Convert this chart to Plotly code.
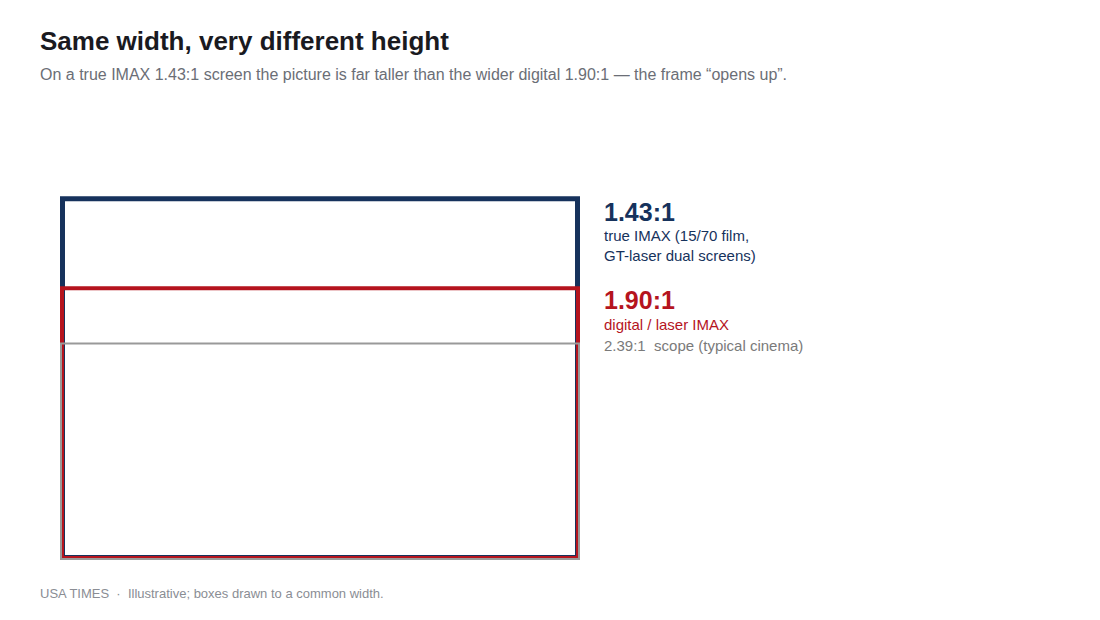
import plotly.graph_objects as go

# aspect ratios, drawn to a common width and sharing the bottom edge
ratios = [1.43, 1.90, 2.39]
ratio_labels = ["1.43:1", "1.90:1", "2.39:1"]
ratio_notes = ["true IMAX (15/70 film,<br>GT-laser dual screens)",
               "digital / laser IMAX",
               "scope (typical cinema)"]
colors = ["#16325c", "#b5141e", "#999999"]
line_widths = [5, 4, 2]

W, H = 1100, 620
FONT = "Liberation Sans, Arial, sans-serif"
BODY = 8  # default page margin around the plot div

# pixel geometry of the plotting area: 1 unit of width = 520px
px_per_unit = 520
m_l, m_b, m_t = 60 - BODY, 60 + BODY, 100
plot_w = W - m_l
plot_h = H - m_b - m_t

fig = go.Figure()

# boxes, strokes kept inside the outline like the original svg
for r, c, lw in zip(ratios, colors, line_widths):
    inset = lw / 2 / px_per_unit
    fig.add_shape(type="rect", xref="x", yref="y",
                  x0=inset, x1=1 - inset, y0=inset, y1=1 / r - inset,
                  line=dict(color=c, width=lw), fillcolor="rgba(0,0,0,0)")


def side_label(r, txt, dy, size, color):
    fig.add_annotation(x=1, y=1 / r, xref="x", yref="y", xanchor="left", yanchor="middle",
                       xshift=22, yshift=-dy, showarrow=False, align="left",
                       text=txt, font=dict(size=size, color=color, family=FONT))


# labels on the right (dy = px below the box top)
side_label(ratios[0], f"<b>{ratio_labels[0]}</b>", 16, 25, colors[0])
side_label(ratios[0], ratio_notes[0], 49, 15, colors[0])
side_label(ratios[1], f"<b>{ratio_labels[1]}</b>", 14, 25, colors[1])
side_label(ratios[1], ratio_notes[1], 38, 15, colors[1])
side_label(ratios[2], f"{ratio_labels[2]}  {ratio_notes[2]}", 3, 15, "#7a7a7a")


def paper_text(txt, px_x, px_y, size, color):
    # place text by page pixel position (left edge, vertical centre)
    fig.add_annotation(text=txt, x=0, y=0, xref="paper", yref="paper",
                       xanchor="left", yanchor="middle", showarrow=False,
                       xshift=px_x - BODY - m_l - 2, yshift=(H - m_b) - (px_y - BODY),
                       font=dict(size=size, color=color, family=FONT))


paper_text("<b>Same width, very different height</b>", 40, 41, 26, "#1a1a1f")
paper_text("On a true IMAX 1.43:1 screen the picture is far taller than the wider digital 1.90:1 — the frame “opens up”.",
           40, 74, 16, "#6b6e76")
paper_text("USA TIMES  ·  Illustrative; boxes drawn to a common width.", 40, 593, 13, "#8a8d94")

fig.update_layout(
    width=W, height=H,
    margin=dict(l=m_l, r=0, t=m_t, b=m_b, pad=0),
    paper_bgcolor="white", plot_bgcolor="white",
    showlegend=False,
    xaxis=dict(range=[0, plot_w / px_per_unit], visible=False, fixedrange=True),
    yaxis=dict(range=[0, plot_h / px_per_unit], visible=False, fixedrange=True),
)

fig.write_html("out.html")
